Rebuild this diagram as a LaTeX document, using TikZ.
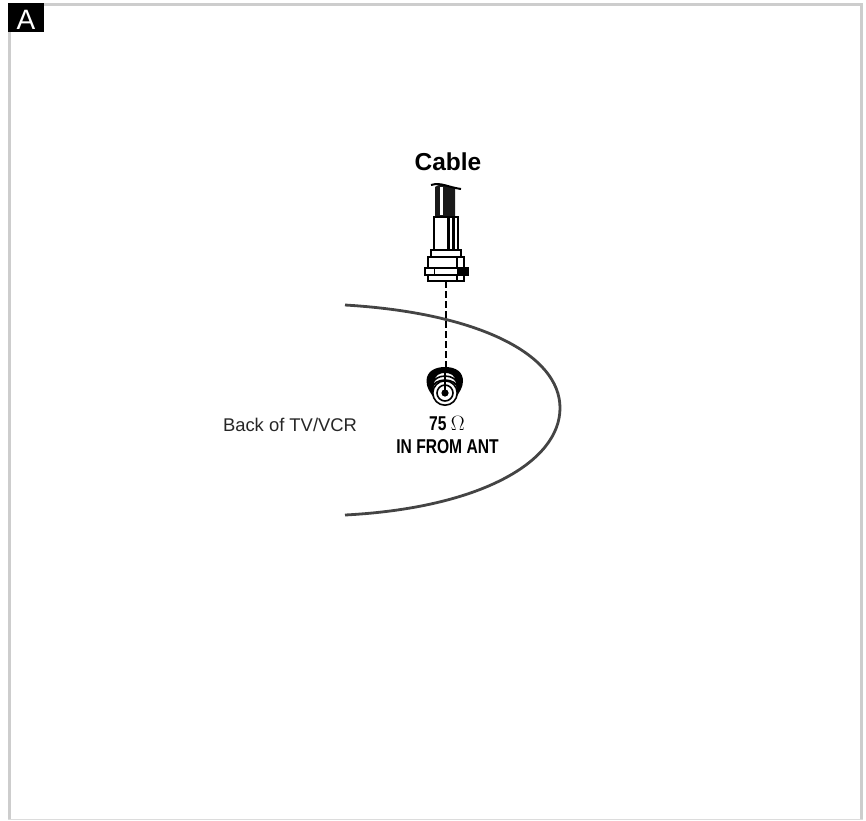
\documentclass[tikz,border=0pt]{standalone}
\usepackage{fontspec}
\setmainfont{Liberation Sans}
\newfontfamily\narrowFont[FakeStretch=0.78]{Liberation Sans}
\begin{document}
\begin{tikzpicture}[x=1pt, y=-1pt]
    \definecolor{frameColour}{HTML}{CDCDCD}
    \definecolor{curveColour}{HTML}{444444}
    \definecolor{inkColour}{HTML}{1A1A1A}

    \tikzset{
        partLine/.style={draw=black, fill=white, line width=2pt},
        ringLine/.style={draw=black, fill=white, line width=1.6pt}
    }

    \useasboundingbox (0,0) rectangle (866,820);

    % Draw frame
    \fill[frameColour] (8,3) rectangle (863,6);
    \fill[frameColour] (8,3) rectangle (11,820);
    \fill[frameColour] (860,3) rectangle (863,820);
    \fill[frameColour!70] (8,819) rectangle (863,820);
    \fill[black] (8,3) rectangle (44,32);
    \node[text=white, font=\fontsize{28}{28}\selectfont] (panelLabel) at (26,19.5) {A};

    % Back of the set
    \draw[curveColour, line width=2.8pt] (345,305) .. controls (480,313) and (560,355) .. (560,408)
        .. controls (560,462) and (480,508) .. (345,515);
    \node[text=black!85, font=\fontsize{18.4}{18.4}\selectfont] (backLabel) at (290,425) {Back of TV/VCR};

    % Plug, drawn from the jacket down
    \node[font=\bfseries\fontsize{24.5}{24.5}\selectfont] (cableLabel) at (448,162) {Cable};
    \fill[inkColour] (435,187) .. controls (442,182) and (447,186) .. (455,188) -- (455,217) -- (435,217) -- cycle;
    \draw[black, line width=2pt] (431,185) .. controls (441,182) and (447,187) .. (461,189);
    \fill[white] (440,187) rectangle (442.5,215);
    \filldraw[partLine] (433.5,217) rectangle (457.5,250);
    \fill[black] (447,217) rectangle (450,250);
    \fill[black] (452,217) rectangle (455,250);
    \filldraw[partLine] (430.5,250) rectangle (460.5,257);
    \filldraw[partLine] (427.5,257) rectangle (464,268);
    \filldraw[partLine] (427.5,275) rectangle (464,280.5);
    \fill[black] (456,257) rectangle (458,268);
    \fill[black] (456,275) rectangle (458,280);
    \filldraw[partLine] (424.5,268) rectangle (467.5,275);
    \fill[black] (457,268) rectangle (468,275);
    \draw[black, line width=1.2pt] (434.5,268) -- (434.5,275);
    \coordinate (plugEnd) at (445.5,281);

    % Jack
    \fill[black] (445,367) .. controls (456,367) and (463,372) .. (463,381)
        .. controls (463,388) and (459,392) .. (456,398) -- (434,398)
        .. controls (430,392) and (426.5,388) .. (426.5,381)
        .. controls (426.5,372) and (434,367) .. (445,367) -- cycle;
    \filldraw[ringLine] (445,380) ellipse (11 and 8);
    \filldraw[ringLine] (445,384) ellipse (12 and 8);
    \filldraw[ringLine] (445,388) ellipse (12.5 and 8);
    \draw[black, line width=1.5pt] (445,372) -- (445,382);
    \filldraw[ringLine] (445,393) circle (12.2);
    \filldraw[ringLine] (445,393) circle (8);
    \draw[black, line width=1.5pt] (445,381) -- (445,390);
    \fill[black] (445,393) circle (3.6);
    \coordinate (jackTop) at (445.5,367);

    % Dashed lead
    \draw[black, line width=2pt, dash pattern=on 7pt off 3pt] (plugEnd) -- (jackTop);

    % Jack labels
    \node[font=\narrowFont\bfseries\fontsize{20}{20}\selectfont] (ohmLabel) at (447,424) {75 $\Omega$};
    \node[font=\narrowFont\bfseries\fontsize{20}{20}\selectfont] (antLabel) at (447.5,447) {IN FROM ANT};

\end{tikzpicture}
\end{document}
